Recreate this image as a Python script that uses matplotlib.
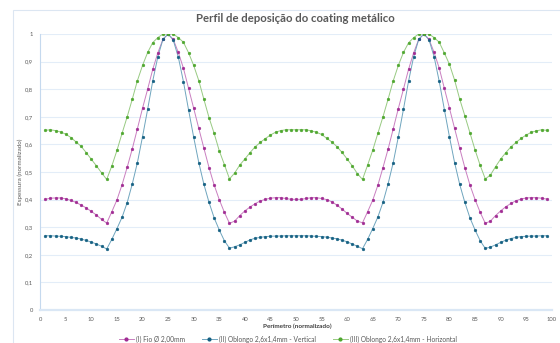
import matplotlib
matplotlib.use("Agg")
import matplotlib.pyplot as plt
from matplotlib.lines import Line2D
from matplotlib.patches import Rectangle

plt.rcParams['font.family'] = ['Lato', 'DejaVu Sans']

# Perimeter positions (normalised, 0-100 scale)
perimetro = list(range(1, 100))

# (I) Fio Ø 2,00mm
fio = [
    0.401, 0.405, 0.406, 0.406, 0.403, 0.397, 0.390, 0.380, 0.370, 0.357,
    0.344, 0.328, 0.315, 0.356, 0.399, 0.454, 0.517, 0.584, 0.657, 0.731,
    0.800, 0.872, 0.932, 0.981, 1.000, 0.981, 0.933, 0.876, 0.803, 0.731,
    0.658, 0.586, 0.516, 0.453, 0.400, 0.354, 0.314, 0.322, 0.342, 0.359,
    0.373, 0.385, 0.395, 0.401, 0.405, 0.407, 0.407, 0.404, 0.401, 0.401,
    0.401, 0.404, 0.407, 0.407, 0.404, 0.400, 0.392, 0.380, 0.366, 0.350,
    0.336, 0.322, 0.316, 0.356, 0.398, 0.452, 0.516, 0.583, 0.656, 0.730,
    0.800, 0.872, 0.932, 0.981, 1.000, 0.981, 0.933, 0.876, 0.803, 0.731,
    0.658, 0.586, 0.516, 0.453, 0.400, 0.354, 0.314, 0.322, 0.342, 0.359,
    0.374, 0.386, 0.396, 0.402, 0.406, 0.407, 0.407, 0.405, 0.402,
]

# (II) Oblongo 2,6x1,4mm - Vertical
vertical = [
    0.269, 0.269, 0.268, 0.267, 0.266, 0.263, 0.261, 0.257, 0.252, 0.246,
    0.239, 0.231, 0.221, 0.256, 0.295, 0.336, 0.389, 0.457, 0.534, 0.628,
    0.727, 0.830, 0.918, 0.981, 1.000, 0.978, 0.916, 0.827, 0.725, 0.626,
    0.534, 0.455, 0.390, 0.334, 0.290, 0.251, 0.224, 0.229, 0.236, 0.245,
    0.254, 0.260, 0.263, 0.266, 0.267, 0.268, 0.268, 0.269, 0.269, 0.269,
    0.269, 0.269, 0.268, 0.267, 0.266, 0.264, 0.261, 0.258, 0.253, 0.247,
    0.239, 0.231, 0.222, 0.256, 0.295, 0.337, 0.390, 0.457, 0.534, 0.627,
    0.727, 0.829, 0.918, 0.981, 1.000, 0.979, 0.917, 0.828, 0.726, 0.627,
    0.534, 0.455, 0.390, 0.334, 0.290, 0.251, 0.223, 0.228, 0.236, 0.245,
    0.253, 0.259, 0.263, 0.266, 0.267, 0.268, 0.268, 0.269, 0.269,
]

# (III) Oblongo 2,6x1,4mm - Horizontal
horizontal = [
    0.651, 0.653, 0.650, 0.645, 0.637, 0.625, 0.609, 0.593, 0.570, 0.546,
    0.522, 0.497, 0.473, 0.522, 0.578, 0.640, 0.700, 0.764, 0.831, 0.886,
    0.933, 0.969, 0.987, 1.000, 1.000, 1.000, 0.987, 0.970, 0.932, 0.886,
    0.831, 0.763, 0.697, 0.640, 0.577, 0.527, 0.475, 0.496, 0.525, 0.547,
    0.570, 0.591, 0.607, 0.621, 0.634, 0.644, 0.650, 0.653, 0.653, 0.653,
    0.653, 0.653, 0.649, 0.644, 0.636, 0.622, 0.609, 0.592, 0.571, 0.547,
    0.522, 0.494, 0.473, 0.525, 0.579, 0.640, 0.700, 0.764, 0.830, 0.886,
    0.933, 0.968, 0.987, 1.000, 1.000, 1.000, 0.987, 0.970, 0.931, 0.890,
    0.833, 0.764, 0.704, 0.642, 0.580, 0.524, 0.475, 0.489, 0.519, 0.547,
    0.570, 0.591, 0.607, 0.622, 0.634, 0.644, 0.649, 0.653, 0.651,
]

series_labels = [
    "(I) Fio Ø 2,00mm",
    "(II) Oblongo 2,6x1,4mm - Vertical",
    "(III) Oblongo 2,6x1,4mm - Horizontal",
]
colors = ["#A02B93", "#156082", "#4EA72E"]
line_colors = ["#C97FC0", "#6FA5BE", "#98CA82"]

x_ticks = list(range(0, 101, 5))
y_ticks = [0, 0.1, 0.2, 0.3, 0.4, 0.5, 0.6, 0.7, 0.8, 0.9, 1]
y_tick_labels = ["0", "0,1", "0,2", "0,3", "0,4", "0,5", "0,6", "0,7", "0,8", "0,9", "1"]

W, H = 560, 343
fig = plt.figure(figsize=(W / 100, H / 100), dpi=100)
fig.patch.set_facecolor("white")

# chart-area frame
fig.patches.append(Rectangle((13 / W, -0.1), 1.2, 1 - 10 / H + 0.1,
                             transform=fig.transFigure, fill=False,
                             edgecolor="#DCE6F2", linewidth=0.8, zorder=0))

x0, x1 = 40.2, 551.8
y0, y1 = 310, 34
ax = fig.add_axes([x0 / W, (H - y0) / H, (x1 - x0) / W, (y0 - y1) / H])

handles = []
for vals, lab, c, lc in zip([fio, vertical, horizontal], series_labels, colors, line_colors):
    ax.plot(perimetro, vals, color=lc, linewidth=0.7, zorder=2)
    ax.plot(perimetro, vals, linestyle="none", marker="o", markersize=2.0,
            markerfacecolor=c, markeredgecolor=c, markeredgewidth=0.3, zorder=3)
    handles.append(Line2D([0], [0], color=lc, linewidth=0.7, marker="o",
                          markersize=2.0, markerfacecolor=c, markeredgecolor=c,
                          label=lab))

ax.set_xlim(0, 100)
ax.set_ylim(0, 1)
ax.set_xticks(x_ticks)
ax.set_xticklabels([str(t) for t in x_ticks])
ax.set_yticks(y_ticks)
ax.set_yticklabels(y_tick_labels)
ax.tick_params(axis="both", length=0, labelsize=4.2, colors="#595959")
ax.tick_params(axis="x", pad=5)
ax.tick_params(axis="y", pad=5)
ax.grid(axis="y", color="#E3EDF8", linewidth=0.8)
ax.set_axisbelow(True)
for s in ["top", "right"]:
    ax.spines[s].set_visible(False)
ax.spines["left"].set_color("#C5D9EE")
ax.spines["left"].set_linewidth(0.8)
ax.spines["bottom"].set_color("#DAE7F5")
ax.spines["bottom"].set_linewidth(1.6)

fig.text(295 / W, 1 - 19 / H, "Perfil de deposição do coating metálico",
         ha="center", va="center", fontsize=8.2, fontweight="bold", color="#595959")
fig.text(297 / W, 1 - 326 / H, "Perímetro (normalizado)",
         ha="center", va="center", fontsize=4.6, fontweight="bold", color="#404040")
fig.text(20 / W, 1 - 172 / H, "Espessura (normalizado)", rotation=90,
         ha="center", va="center", fontsize=4.5, color="#595959")

fig.legend(handles=handles, loc="center", bbox_to_anchor=(288 / W, 1 - 339 / H),
           ncol=3, frameon=False, fontsize=4.8, labelcolor="#595959",
           handlelength=2.2, columnspacing=2.6, handletextpad=0.3)

fig.savefig("out.png", dpi=100)
